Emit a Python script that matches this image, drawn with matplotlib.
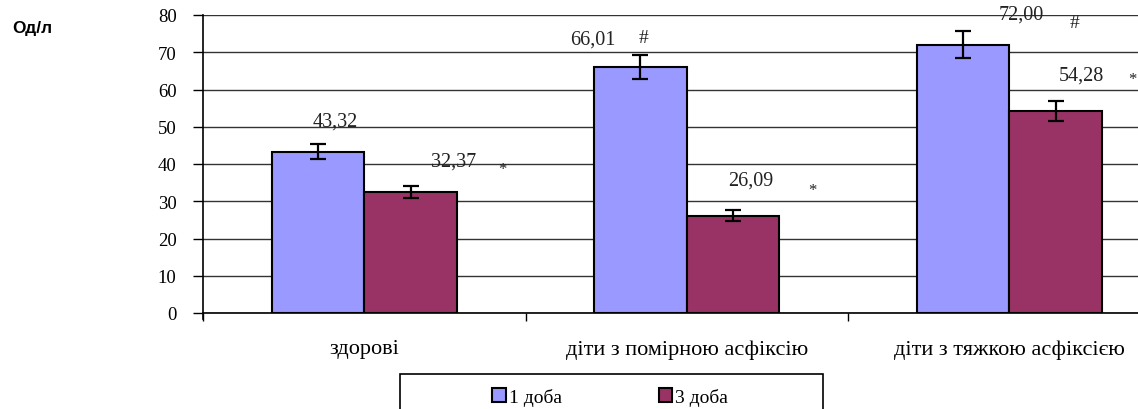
import matplotlib.pyplot as plt
from matplotlib.patches import Rectangle
import numpy as np

# groups and series
categories = ['здорові', 'діти з помірною асфіксію', 'діти з тяжкою асфіксією']
series_names = ['1 доба', '3 доба']
day1 = [43.32, 66.01, 72.00]
day3 = [32.37, 26.09, 54.28]
day1_err = [2.0, 3.2, 3.6]
day3_err = [1.6, 1.5, 2.7]
day1_marks = ['', '#', '#']
day3_marks = ['*', '*', '*']
y_ticks = [0, 10, 20, 30, 40, 50, 60, 70, 80]

blue = '#9999FF'
plum = '#993366'
serif = ['Liberation Serif', 'DejaVu Serif']

fig = plt.figure(figsize=(11.38, 4.10), dpi=100)
ax = fig.add_axes([203 / 1138, 96 / 410, 967.5 / 1138, 298 / 410])

x = np.arange(len(categories))
w = 0.287
ax.bar(x - w / 2, day1, w, color=blue, edgecolor='black', linewidth=1.5, zorder=3,
       label=series_names[0])
ax.bar(x + w / 2, day3, w, color=plum, edgecolor='black', linewidth=1.5, zorder=3,
       label=series_names[1])
ax.errorbar(x - w / 2, day1, yerr=day1_err, fmt='none', ecolor='black',
            elinewidth=1.6, capsize=6, capthick=1.6, zorder=4)
ax.errorbar(x + w / 2, day3, yerr=day3_err, fmt='none', ecolor='black',
            elinewidth=1.6, capsize=6, capthick=1.6, zorder=4)

# value labels, offsets in pixels from bar top (label dx, dy; mark dx, dy)
px = 0.72
lab1_off = [(17, 31), (-48, 28), (58, 31)]
mark1_off = [(0, 0), (3, 30), (112, 22)]
lab3_off = [(43, 31), (18, 36), (26, 36)]
mark3_off = [(92, 23), (79, 26), (77, 32)]

def fmt(v):
    return f'{v:.2f}'.replace('.', ',')

for i in range(len(categories)):
    for xs, vals, loff, moff, marks in [
        (x[i] - w / 2, day1[i], lab1_off[i], mark1_off[i], day1_marks[i]),
        (x[i] + w / 2, day3[i], lab3_off[i], mark3_off[i], day3_marks[i]),
    ]:
        ax.annotate(fmt(vals), (xs, vals), xytext=(loff[0] * px, loff[1] * px),
                    textcoords='offset points', ha='center', va='center',
                    fontsize=14.5, family=serif, color='#222222',
                    annotation_clip=False, zorder=5)
        if marks:
            ax.annotate(marks, (xs, vals), xytext=(moff[0] * px, moff[1] * px),
                        textcoords='offset points', ha='center', va='center',
                        fontsize=14 if marks == '#' else 12, family=serif,
                        color='#222222', annotation_clip=False, zorder=5)

ax.set_xlim(-0.5, len(categories) - 0.5)
ax.set_ylim(0, 80)
ax.set_yticks(y_ticks)
ax.set_yticklabels([str(t) for t in y_ticks], family=serif, fontsize=13.5)
ax.yaxis.grid(True, color='#333333', linewidth=1.0, zorder=0)
ax.set_axisbelow(True)

ax.set_xticks(x)
ax.set_xticklabels(categories, family=serif, fontsize=16)
ax.tick_params(axis='x', which='major', length=0, pad=19)
ax.set_xticks(np.arange(-0.5, len(categories), 1.0), minor=True)
ax.tick_params(axis='x', which='minor', length=6, width=1, direction='out')
ax.tick_params(axis='y', length=7, width=1, direction='out', pad=12)

for s in ['top', 'right']:
    ax.spines[s].set_visible(False)
ax.spines['left'].set_linewidth(1.2)
ax.spines['bottom'].set_linewidth(1.2)
ax.spines['left'].set_bounds(-1.5, 80)

fig.text(12 / 1138, 1 - 28 / 410, 'Од/л', fontsize=12.5, fontweight='bold',
         family=['Liberation Sans', 'DejaVu Sans'], ha='left', va='center')

# legend box runs off the bottom edge
fig.patches.append(Rectangle((400 / 1138, -0.1), 423 / 1138, 0.1 + 35 / 410,
                             transform=fig.transFigure, facecolor='white',
                             edgecolor='black', linewidth=1.2))
fig.legend(loc='center left', bbox_to_anchor=(492 / 1138, 1 - 398 / 410), ncol=2,
           frameon=False, prop={'family': serif, 'size': 14},
           handlelength=0.7, handleheight=0.7, handletextpad=0.15,
           columnspacing=5.0, borderpad=0, borderaxespad=0)

fig.savefig('out.png', dpi=100)
